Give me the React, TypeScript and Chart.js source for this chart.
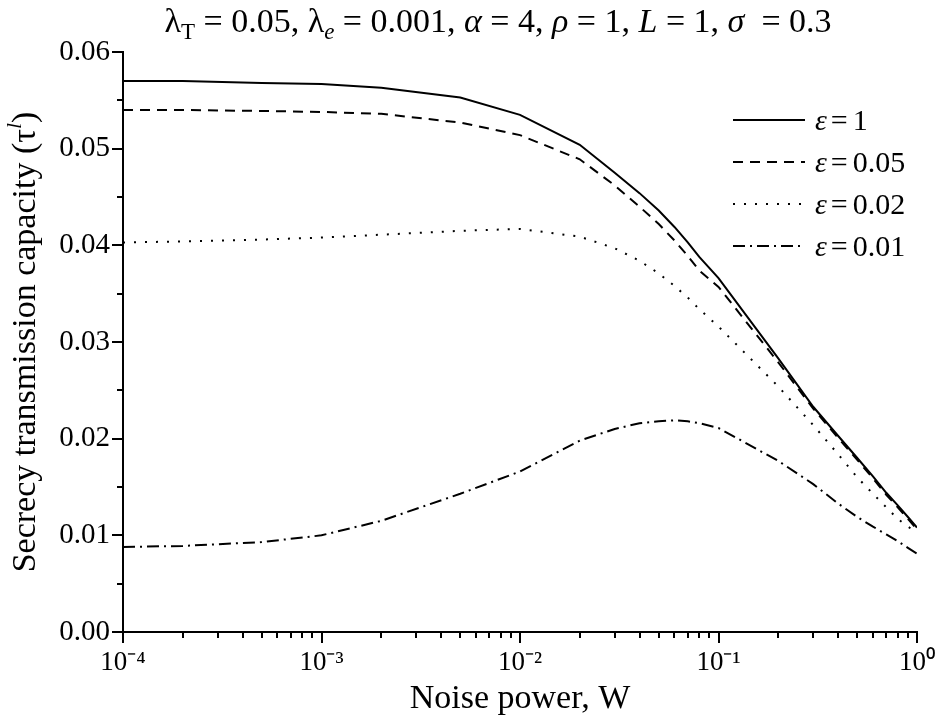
import React, { useEffect, useRef } from "react";
import { Chart, registerables } from "chart.js";

Chart.register(...registerables);

// ---------- data ----------
const noisePower = [
  1e-4, 2e-4, 5e-4, 1e-3, 2e-3, 5e-3, 1e-2, 2e-2, 3e-2, 4e-2, 5e-2, 6e-2, 7e-2,
  8e-2, 0.1, 0.2, 0.3, 0.4, 0.5, 0.6, 0.7, 0.8, 0.9, 1.0,
];

const capEps1 = [
  0.057, 0.057, 0.0568, 0.0567, 0.0563, 0.0553, 0.0535, 0.0504, 0.0475, 0.0454,
  0.0436, 0.0419, 0.0403, 0.0388, 0.0366, 0.0283, 0.0233, 0.0203, 0.018, 0.0161,
  0.0144, 0.0131, 0.0119, 0.0108,
];
const capEps005 = [
  0.054, 0.054, 0.0539, 0.0538, 0.0536, 0.0527, 0.0514, 0.0489, 0.0462, 0.044,
  0.0422, 0.0405, 0.0389, 0.0374, 0.0357, 0.0279, 0.0231, 0.0201, 0.0178, 0.0159,
  0.0142, 0.0129, 0.0117, 0.0106,
];
const capEps002 = [
  0.0403, 0.0404, 0.0406, 0.0408, 0.0411, 0.0415, 0.0417, 0.0409, 0.0397,
  0.0384, 0.0371, 0.0358, 0.0346, 0.0334, 0.0316, 0.0254, 0.0214, 0.0184,
  0.016, 0.0143, 0.0129, 0.0117, 0.0109, 0.0103,
];
const capEps001 = [
  0.0088, 0.0089, 0.0093, 0.01, 0.0115, 0.0143, 0.0166, 0.0198, 0.021, 0.0216,
  0.0218, 0.0219, 0.0218, 0.0216, 0.0211, 0.0177, 0.0153, 0.0133, 0.0119,
  0.0109, 0.0101, 0.0094, 0.0087, 0.0081,
];

const epsilonLabels = ["1", "0.05", "0.02", "0.01"];
const seriesValues = [capEps1, capEps005, capEps002, capEps001];
const seriesDash: number[][] = [[], [10, 7], [2, 9], [12, 5, 2, 5]];

const xMajorTicks = [1e-4, 1e-3, 1e-2, 1e-1, 1];
const xMajorLabels = ["10⁻⁴", "10⁻³", "10⁻²", "10⁻¹", "10⁰"];
const yTickValues = [0, 0.005, 0.01, 0.015, 0.02, 0.025, 0.03, 0.035, 0.04, 0.045, 0.05, 0.055, 0.06];

const FONT = '"Liberation Serif", "Times New Roman", serif';

type Seg = { t: string; size: number; italic?: boolean; dy?: number };

function drawRich(ctx: CanvasRenderingContext2D, segs: Seg[], cx: number, baseY: number) {
  let total = 0;
  const widths = segs.map((s) => {
    ctx.font = `${s.italic ? "italic " : ""}${s.size}px ${FONT}`;
    const w = ctx.measureText(s.t).width;
    total += w;
    return w;
  });
  let x = cx - total / 2;
  ctx.textAlign = "left";
  ctx.textBaseline = "alphabetic";
  segs.forEach((s, i) => {
    ctx.font = `${s.italic ? "italic " : ""}${s.size}px ${FONT}`;
    ctx.fillText(s.t, x, baseY + (s.dy || 0));
    x += widths[i];
  });
}

const decorations = {
  id: "decorations",
  afterDraw(chart: any) {
    const ctx: CanvasRenderingContext2D = chart.ctx;
    const xs = chart.scales.x;
    const ys = chart.scales.y;
    const area = chart.chartArea;
    ctx.save();
    ctx.strokeStyle = "#000";
    ctx.fillStyle = "#000";
    ctx.lineWidth = 2;
    ctx.setLineDash([]);
    // y ticks (outward)
    yTickValues.forEach((v, i) => {
      const py = Math.round(ys.getPixelForValue(v));
      const len = i % 2 === 0 ? 11 : 6;
      ctx.beginPath();
      ctx.moveTo(area.left - len, py);
      ctx.lineTo(area.left, py);
      ctx.stroke();
    });
    // x ticks (outward)
    for (let d = -4; d <= 0; d++) {
      for (let m = 1; m <= 9; m++) {
        if (d === 0 && m > 1) break;
        const v = m * Math.pow(10, d);
        const px = Math.round(xs.getPixelForValue(v));
        const len = m === 1 ? 11 : 6;
        ctx.beginPath();
        ctx.moveTo(px, area.bottom);
        ctx.lineTo(px, area.bottom + len);
        ctx.stroke();
      }
    }

    // title
    const base = 34;
    drawRich(
      ctx,
      [
        { t: "λ", size: base },
        { t: "T", size: 23, dy: 7 },
        { t: " = 0.05, λ", size: base },
        { t: "e", size: 23, italic: true, dy: 7 },
        { t: " = 0.001, ", size: base },
        { t: "α", size: base, italic: true },
        { t: " = 4, ", size: base },
        { t: "ρ", size: base, italic: true },
        { t: " = 1, ", size: base },
        { t: "L", size: base, italic: true },
        { t: " = 1, ", size: base },
        { t: "σ", size: base, italic: true },
        { t: "  = 0.3", size: base },
      ],
      498,
      32
    );

    // x axis title
    drawRich(ctx, [{ t: "Noise power, W", size: 34 }], (area.left + area.right) / 2, 708);

    // y axis title
    ctx.save();
    ctx.translate(25, (area.top + area.bottom) / 2);
    ctx.rotate(-Math.PI / 2);
    drawRich(
      ctx,
      [
        { t: "Secrecy transmission capacity (τ", size: 34 },
        { t: "l", size: 22, italic: true, dy: -14 },
        { t: ")", size: 34 },
      ],
      0,
      10
    );
    ctx.restore();

    // legend
    chart.data.datasets.forEach((ds: any, i: number) => {
      const y = 120 + 42 * i;
      ctx.save();
      ctx.lineWidth = 2;
      ctx.setLineDash(ds.borderDash || []);
      ctx.beginPath();
      ctx.moveTo(733, y);
      ctx.lineTo(805, y);
      ctx.stroke();
      ctx.restore();
      ctx.textAlign = "left";
      ctx.textBaseline = "alphabetic";
      ctx.font = `italic 30px ${FONT}`;
      const ew = ctx.measureText("ε").width;
      ctx.fillText("ε", 815, y + 10);
      ctx.font = `30px ${FONT}`;
      const eqw = ctx.measureText("=").width;
      ctx.fillText("=", 815 + ew + 4, y + 10);
      ctx.fillText(epsilonLabels[i], 815 + ew + 4 + eqw + 5, y + 10);
    });
    ctx.restore();
  },
};

export default function App() {
  const ref = useRef<HTMLCanvasElement | null>(null);
  useEffect(() => {
    if (!ref.current) return;
    const datasets = seriesValues.map((vals, i) => ({
      label: "ε = " + epsilonLabels[i],
      data: noisePower.map((x, j) => ({ x, y: vals[j] })),
      borderColor: "#000",
      backgroundColor: "#000",
      borderWidth: 2,
      borderDash: seriesDash[i],
      pointRadius: 0,
      tension: 0,
      fill: false,
    }));
    const chart = new Chart(ref.current, {
      type: "line",
      data: { datasets },
      options: {
        animation: false,
        responsive: true,
        maintainAspectRatio: false,
        devicePixelRatio: 1,
        layout: { padding: { top: 52, right: 19, left: 0, bottom: 0 } },
        plugins: { legend: { display: false }, title: { display: false }, tooltip: { enabled: false } },
        scales: {
          x: {
            type: "logarithmic",
            min: 1e-4,
            max: 1,
            afterBuildTicks: (s: any) => {
              s.ticks = xMajorTicks.map((v) => ({ value: v }));
            },
            afterFit: (s: any) => {
              s.height = 87;
              s.paddingLeft = 0;
              s.paddingRight = 0;
            },
            grid: { display: false, drawTicks: false },
            border: { display: true, color: "#000", width: 2 },
            ticks: {
              autoSkip: false,
              maxRotation: 0,
              padding: 15,
              color: "#000",
              font: { family: FONT, size: 27 },
              callback: (v: any) => {
                const idx = xMajorTicks.findIndex((t) => Math.abs(Math.log10(t) - Math.log10(Number(v))) < 1e-6);
                return idx >= 0 ? xMajorLabels[idx] : "";
              },
            },
          },
          y: {
            type: "linear",
            min: 0,
            max: 0.06,
            afterFit: (s: any) => {
              s.width = 123;
              s.paddingTop = 0;
              s.paddingBottom = 0;
            },
            grid: { display: false, drawTicks: false },
            border: { display: true, color: "#000", width: 2 },
            ticks: {
              stepSize: 0.01,
              padding: 13,
              color: "#000",
              font: { family: FONT, size: 29 },
              callback: (v: any) => Number(v).toFixed(2),
            },
          },
        },
      },
      plugins: [decorations],
    });
    return () => chart.destroy();
  }, []);
  return (
    <div style={{ position: "absolute", left: 0, top: 0, width: 936, height: 719, background: "#fff" }}>
      <canvas ref={ref} />
    </div>
  );
}
